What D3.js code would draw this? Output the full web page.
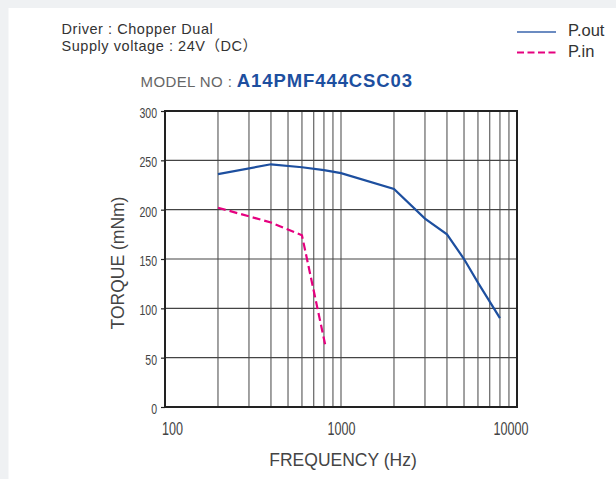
<!DOCTYPE html>
<html>
<head>
<meta charset="utf-8">
<script src="https://cdn.jsdelivr.net/npm/d3@7"></script>
<style>
  body { margin: 0; background: #eff1f3; }
  svg { display: block; }
  text { font-family: "Liberation Sans", Arial, "Noto Sans CJK JP", sans-serif; }
</style>
</head>
<body>
<div id="chart"></div>
<script>
// data
const outFreq = [200, 400, 600, 800, 1000, 2000, 3000, 4000, 5000, 6000, 8000];
const outTorque = [236, 246, 243, 240, 237, 221, 191, 175, 150, 126, 90];
const inFreq = [200, 400, 600, 820];
const inTorque = [202, 187, 174, 60];
const yTicks = [0, 50, 100, 150, 200, 250, 300];
const xTicks = [100, 1000, 10000];
const xGrid = [200, 300, 400, 500, 600, 700, 800, 900, 1000, 2000, 3000, 4000, 5000, 6000, 7000, 8000, 9000];

const W = 616, H = 479;
const margin = { top: 111, right: 99, bottom: 72, left: 165 },
    width = W - margin.left - margin.right,
    height = H - margin.top - margin.bottom;

const svgRoot = d3.select("#chart").append("svg")
    .attr("width", W)
    .attr("height", H);

// white panel
svgRoot.append("rect")
    .attr("x", 8.5).attr("y", 8)
    .attr("width", W).attr("height", H)
    .attr("fill", "#fff");

const svg = svgRoot.append("g")
    .attr("transform", "translate(" + margin.left + "," + margin.top + ")");

const x = d3.scaleLog().domain([100, 10000]).range([0, width]);
const y = d3.scaleLinear().domain([0, 300]).range([height, 0]);

// grid
svg.append("g")
    .selectAll("line")
    .data(xGrid)
    .enter()
    .append("line")
    .attr("x1", d => x(d)).attr("x2", d => x(d))
    .attr("y1", 0).attr("y2", height)
    .attr("stroke", "#555")
    .attr("stroke-width", 1.1);

svg.append("g")
    .selectAll("line")
    .data(yTicks.slice(1, -1))
    .enter()
    .append("line")
    .attr("x1", 0).attr("x2", width)
    .attr("y1", d => y(d)).attr("y2", d => y(d))
    .attr("stroke", "#444")
    .attr("stroke-width", 1.1);

// y axis ticks + condensed labels
const yAxis = svg.append("g")
    .call(d3.axisLeft(y).tickValues(yTicks).tickSize(4).tickPadding(0));
yAxis.select(".domain").remove();
yAxis.selectAll("line").attr("stroke", "#222").attr("stroke-width", 1.2);
yAxis.selectAll("text")
    .attr("x", -8 / 0.68)
    .attr("dy", "0.42em")
    .attr("text-anchor", "end")
    .attr("transform", "scale(0.68,1)")
    .style("font-size", "15.5px")
    .style("font-family", "'Liberation Sans', Arial, sans-serif")
    .attr("fill", "#444");

// x axis labels
const xAxis = svg.append("g")
    .attr("transform", "translate(0," + height + ")")
    .call(d3.axisBottom(x).tickValues(xTicks).tickSize(0).tickPadding(0).tickFormat(d3.format("d")));
xAxis.select(".domain").remove();
xAxis.selectAll("text")
    .attr("y", 28)
    .attr("dy", 0)
    .attr("text-anchor", (d, i) => i === 0 ? "start" : (i === xTicks.length - 1 ? "end" : "middle"))
    .attr("x", (d, i) => (i === 0 ? -3.5 : (i === xTicks.length - 1 ? 11 : 0)) / 0.68)
    .attr("transform", "scale(0.68,1)")
    .style("font-size", "18.5px")
    .style("font-family", "'Liberation Sans', Arial, sans-serif")
    .attr("fill", "#444");

// frame
svg.append("rect")
    .attr("width", width).attr("height", height)
    .attr("fill", "none")
    .attr("stroke", "#222")
    .attr("stroke-width", 2);

// curves
const line = d3.line()
    .x(d => x(d[0]))
    .y(d => y(d[1]));

svg.append("path")
    .datum(outFreq.map((f, i) => [f, outTorque[i]]))
    .attr("d", line)
    .attr("fill", "none")
    .attr("stroke", "#1d4f9f")
    .attr("stroke-width", 2.2);

svg.append("path")
    .datum(inFreq.map((f, i) => [f, inTorque[i]]))
    .attr("d", line)
    .attr("fill", "none")
    .attr("stroke", "#e5007f")
    .attr("stroke-width", 2.2)
    .attr("stroke-dasharray", "8,4");

// axis titles
svg.append("text")
    .attr("x", width / 2 + 2)
    .attr("y", height + 59)
    .attr("text-anchor", "middle")
    .style("font-size", "17.5px")
    .attr("fill", "#444")
    .text("FREQUENCY (Hz)");

svg.append("text")
    .attr("transform", "translate(-41," + (height / 2 + 4) + ") rotate(-90)")
    .attr("text-anchor", "middle")
    .style("font-size", "17.5px")
    .attr("fill", "#444")
    .text("TORQUE (mNm)");

// header
svgRoot.append("text")
    .attr("x", 61.5).attr("y", 33.5)
    .style("font-size", "14.5px")
    .style("letter-spacing", "0.55px")
    .attr("fill", "#333")
    .text("Driver : Chopper Dual");
svgRoot.append("text")
    .attr("x", 61.5).attr("y", 50.5)
    .style("font-size", "14.5px")
    .style("letter-spacing", "0.55px")
    .attr("fill", "#333")
    .text("Supply voltage : 24V（DC）");

const title = svgRoot.append("text")
    .attr("x", 140.5).attr("y", 86.7);
title.append("tspan")
    .style("font-size", "15px")
    .style("letter-spacing", "0.4px")
    .attr("fill", "#666")
    .text("MODEL NO : ");
title.append("tspan")
    .style("font-size", "18.5px")
    .style("font-weight", "bold")
    .style("letter-spacing", "0.9px")
    .attr("fill", "#1d4f9f")
    .text("A14PMF444CSC03");

// legend
const legend = svgRoot.append("g");
legend.append("line")
    .attr("x1", 517).attr("x2", 556).attr("y1", 32).attr("y2", 32)
    .attr("stroke", "#3a64ad").attr("stroke-width", 1.5);
legend.append("line")
    .attr("x1", 517).attr("x2", 556).attr("y1", 52.5).attr("y2", 52.5)
    .attr("stroke", "#e5007f").attr("stroke-width", 1.8)
    .attr("stroke-dasharray", "7,3.5");
legend.append("text")
    .attr("x", 568).attr("y", 36)
    .style("font-size", "16.5px")
    .attr("fill", "#333")
    .text("P.out");
legend.append("text")
    .attr("x", 568).attr("y", 57)
    .style("font-size", "16.5px")
    .attr("fill", "#333")
    .text("P.in");
</script>
</body>
</html>
